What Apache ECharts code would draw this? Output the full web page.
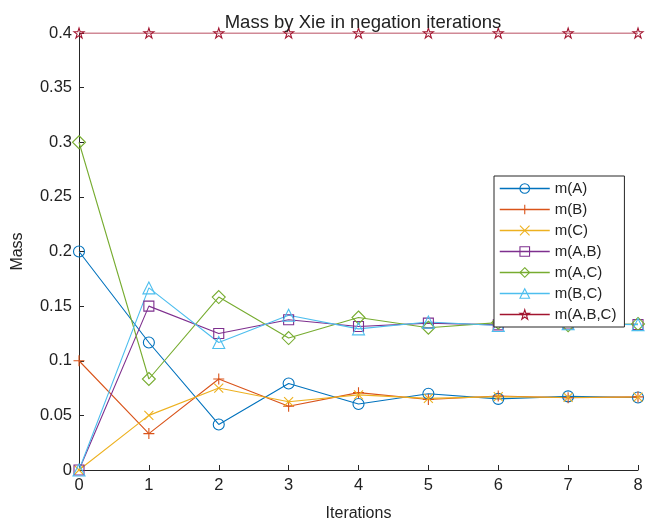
<!DOCTYPE html>
<html><head><meta charset="utf-8">
<script src="https://cdn.jsdelivr.net/npm/echarts@6/dist/echarts.min.js"></script>
<style>html,body{margin:0;padding:0;background:#fff}#c{width:651px;height:527px}</style>
</head><body><div id="c"></div>
<script>
var iterations = [0,1,2,3,4,5,6,7,8];
var seriesNames = ['m(A)','m(B)','m(C)','m(A,B)','m(A,C)','m(B,C)','m(A,B,C)'];
var mA   = [0.2, 0.1167, 0.0417, 0.0792, 0.0604, 0.0698, 0.0651, 0.0674, 0.0663];
var mB   = [0.1, 0.0333, 0.0833, 0.0583, 0.0708, 0.0646, 0.0677, 0.0661, 0.0669];
var mC   = [0, 0.05, 0.075, 0.0625, 0.0688, 0.0656, 0.0672, 0.0664, 0.0668];
var mAB  = [0, 0.15, 0.125, 0.1375, 0.1313, 0.1344, 0.1328, 0.1336, 0.1332];
var mAC  = [0.3, 0.0833, 0.1583, 0.1208, 0.1396, 0.1302, 0.1349, 0.1326, 0.1337];
var mBC  = [0, 0.1667, 0.1167, 0.1417, 0.1292, 0.1354, 0.1323, 0.1339, 0.1331];
var mABC = [0.4, 0.4, 0.4, 0.4, 0.4, 0.4, 0.4, 0.4, 0.4];
var yTicks = [0,0.05,0.1,0.15,0.2,0.25,0.3,0.35,0.4];

var values = [mA,mB,mC,mAB,mAC,mBC,mABC];
var colors = ['#0072BD','#D95319','#EDB120','#7E2F8E','#77AC30','#4DBEEE','#A2142F'];
var plusPath = 'path://M5,0L5,10M0,5L10,5';
var xPath = 'path://M0,0L10,10M0,10L10,0';
var starPath = 'path://M50,0L61.2,34.5L97.6,34.5L68.2,55.9L79.4,90.5L50,69.1L20.6,90.5L31.8,55.9L2.4,34.5L38.8,34.5Z';
var symbols = ['circle', plusPath, xPath, 'rect', 'diamond', 'triangle', starPath];
var sizes = [11, 11, 9, 10, 13, 12, 10];
var font = 'Liberation Sans, Arial, Helvetica, sans-serif';

var series = values.map(function(v, i){
  return {
    name: seriesNames[i], type: 'line',
    data: iterations.map(function(x, j){ return [x, v[j]]; }),
    symbol: symbols[i], symbolSize: sizes[i], showAllSymbol: true,
    lineStyle: {color: colors[i], width: 1.1},
    itemStyle: {color: 'rgba(255,255,255,0)', borderColor: colors[i], borderWidth: 1.1},
    emphasis: {disabled: true},
    animation: false
  };
});

var legendData = seriesNames.map(function(n, i){
  return {name: n,
    itemStyle: {color: 'rgba(255,255,255,0)', borderColor: colors[i], borderWidth: 1.1},
    lineStyle: {color: colors[i], width: 1.5}};
});

var chart = echarts.init(document.getElementById('c'));
chart.setOption({
  animation: false,
  title: {text: 'Mass by Xie in negation iterations', left: 358, textAlign: 'center', top: 8,
    textStyle: {fontFamily: font, fontSize: 18.5, fontWeight: 'normal', color: '#222'}},
  grid: {left: 79, right: 13, top: 33, bottom: 55, containLabel: false},
  legend: {
    orient: 'vertical', left: 494, top: 176,
    data: legendData,
    itemWidth: 50, itemHeight: 12, itemGap: 6,
    padding: [5, 8, 5, 5],
    borderColor: '#262626', borderWidth: 1, backgroundColor: '#fff',
    textStyle: {fontFamily: font, fontSize: 15, color: '#222'}
  },
  xAxis: {
    type: 'value', min: 0, max: 8, interval: 1,
    name: 'Iterations', nameLocation: 'middle', nameGap: 36,
    nameTextStyle: {fontFamily: font, fontSize: 16, color: '#222'},
    axisLine: {lineStyle: {color: '#262626'}},
    axisTick: {inside: true, length: 5, lineStyle: {color: '#262626'}},
    axisLabel: {fontFamily: font, fontSize: 16.5, color: '#222', margin: 7},
    splitLine: {show: false}
  },
  yAxis: {
    type: 'value', min: 0, max: 0.4, interval: 0.05,
    name: 'Mass', nameLocation: 'middle', nameGap: 53, nameRotate: 90,
    nameTextStyle: {fontFamily: font, fontSize: 16, color: '#222'},
    axisLine: {show: true, lineStyle: {color: '#262626'}},
    axisTick: {show: true, inside: true, length: 5, lineStyle: {color: '#262626'}},
    axisLabel: {fontFamily: font, fontSize: 16.5, color: '#222', margin: 7,
      formatter: function(v){ var t = yTicks.find(function(k){return Math.abs(k-v)<1e-9;}); return t === undefined ? '' : String(t); }},
    splitLine: {show: false}
  },
  series: series
});
</script></body></html>
